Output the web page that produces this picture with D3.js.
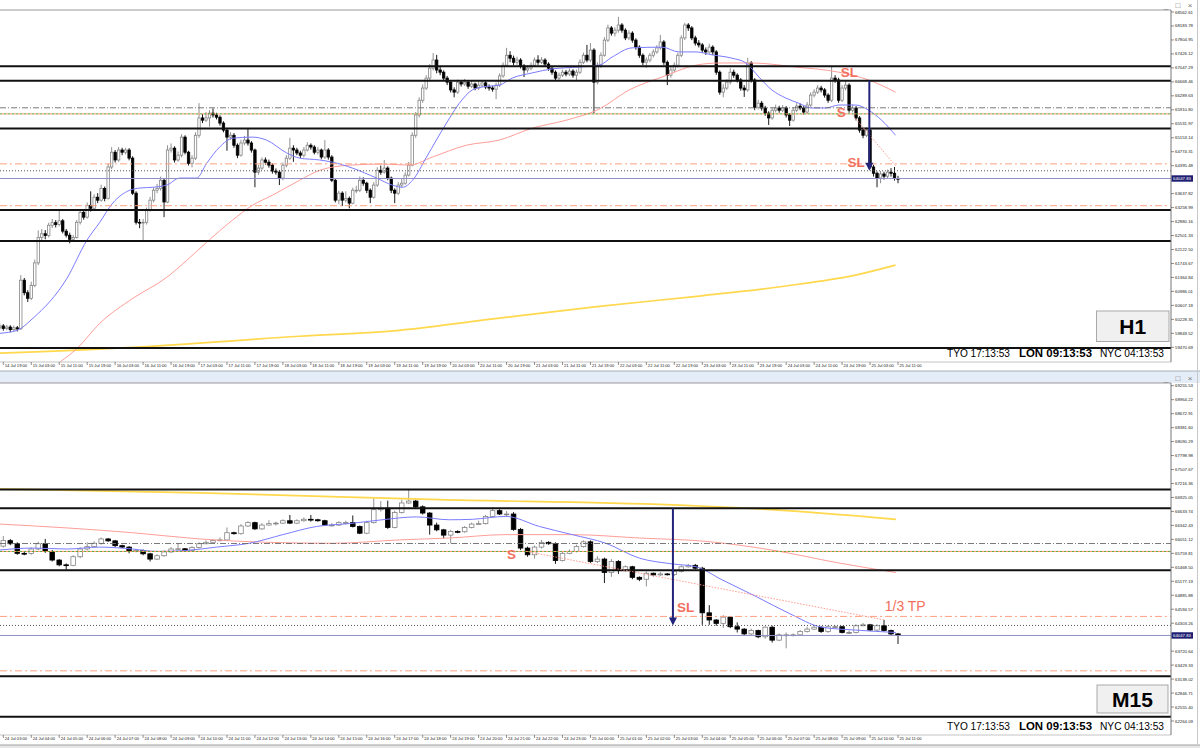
<!DOCTYPE html>
<html>
<head>
  <meta charset="utf-8">
  <title>BTCUSD H1 / M15</title>
  <style>
    body {
      margin: 0;
      background: #fff;
      font-family: "Liberation Sans", Arial, sans-serif;
    }
    svg { display: block; }
  </style>
  <script src="https://d3js.org/d3.v7.min.js"></script>
</head>
<body>
  <svg id="chart" width="1200" height="748"></svg>

  <script>
    // ---------------- H1 panel data (index = hours since 14 Jul 18:00) ----------------
    var h1FirstOpen = 60000;
    var h1Close = [
      60050, 59980, 60020, 59950, 60000, 59970, 61290, 60950, 60800, 61150,
      61760, 62450, 62550, 62500, 62780, 62850, 62800, 62900, 62620, 62510,
      62400, 62450, 62860, 63130, 63000, 63320, 63240, 63540, 63460, 63780,
      63510, 64360, 64760, 64550, 64820, 64760, 64820, 64600, 63650, 62860,
      62840, 62860, 63190, 63460, 63730, 63780, 64000, 63410, 64820, 64870,
      64550, 64680, 65170, 64760, 64460, 64600, 65220, 65690, 65630, 65690,
      65820, 65770, 65710, 65550, 65360, 65170, 65220, 64950, 64680, 65010,
      65090, 65010, 64820, 64220, 64330, 64550, 64490, 64410, 64250, 64220,
      64060, 64410, 64600, 64870, 64820, 64740, 64680, 64820, 64950, 64900,
      64760, 64820, 64630, 64820, 64630, 64000, 63460, 63650, 63460, 63510,
      63380, 63730, 63730, 64000, 63920, 63730, 63540, 63870, 64270, 64220,
      64330, 64060, 63730, 63650, 63870, 63920, 64140, 64410, 65220, 65770,
      66170, 66500, 66770, 67040, 67260, 66990, 66930, 66770, 66660, 66450,
      66390, 66660, 66610, 66660, 66550, 66610, 66500, 66580, 66640, 66530,
      66500, 66470, 66580, 66830, 67120, 67390, 67310, 67200, 67260, 67100,
      66990, 67040, 67120, 67260, 67200, 67260, 67150, 67040, 66930, 66770,
      66850, 66930, 66880, 66960, 66850, 66930, 67200, 67390, 67260, 67530,
      66660, 67120, 67390, 67800, 68130, 67990, 68070, 68210, 68070, 67860,
      67990, 67800, 67610, 67390, 67200, 67260, 67390, 67480, 67590, 67750,
      67200, 66850, 66990, 67120, 67390, 67860, 68210, 68130, 67860, 67720,
      67670, 67530, 67480, 67610, 67480, 66930, 66390, 66500, 66660, 66930,
      66850, 66720, 66500, 66450, 67180, 66720, 65980, 66090, 65960, 65820,
      65690, 65900, 65960, 65900, 65960, 65770, 65630, 65900, 66010, 65960,
      65850, 66040, 66310, 66390, 66500, 66450, 66310, 66170, 66770, 66720,
      66170, 66500, 66580, 65900, 65960, 65690, 65360, 65220, 65360, 64360,
      64190, 64060, 64170, 64110, 64220, 64190, 64050, 64048
    ];
    var h1High = [
      60120, 60100, 60080, 60070, 60060, 60050, 61430, 61350, 61020, 61250,
      61850, 62640, 62680, 62650, 62850, 62950, 62920, 63190, 62950, 62680,
      62580, 62520, 62920, 63200, 63180, 63400, 63700, 63620, 63650, 63880,
      63830, 64450, 64900, 64820, 64900, 64880, 64880, 64870, 64650, 63700,
      62950, 62950, 63260, 63550, 63800, 63900, 64100, 64050, 64950, 65000,
      64920, 64780, 65250, 65220, 64800, 64680, 65300, 66090, 65800, 65850,
      65900, 65950, 65830, 65760, 65600, 65420, 65300, 65280, 65000, 65100,
      65200, 65410, 65060, 64860, 64420, 64620, 64620, 64560, 64460, 64320,
      64280, 64480, 64680, 65150, 64950, 64880, 64800, 64900, 65030, 65000,
      64950, 64900, 64860, 65090, 64870, 64680, 64050, 63720, 63700, 63700,
      63560, 63800, 63850, 64100, 64080, 63960, 63780, 63950, 64350, 64400,
      64550, 64380, 64100, 63780, 63950, 64050, 64220, 64500, 65300, 65850,
      66250, 66600, 66850, 67150, 67450, 67400, 67080, 66980, 66830, 66700,
      66520, 66730, 66720, 66750, 66700, 66700, 66650, 66680, 66720, 66690,
      66600, 66560, 66650, 66900, 67200, 67590, 67500, 67380, 67350, 67310,
      67150, 67120, 67200, 67330, 67390, 67340, 67310, 67200, 67090, 66980,
      66920, 67000, 66990, 67030, 67010, 67000, 67280, 67460, 67670, 67720,
      67580, 67200, 67470, 67880, 68220, 68180, 68150, 68430, 68260, 68120,
      68070, 68040, 67850, 67660, 67440, 67330, 67450, 67550, 67660, 67940,
      67800, 67250, 67080, 67200, 67460, 67930, 68270, 68260, 68180, 67920,
      67800, 67720, 67600, 67700, 67660, 67530, 66980, 66600, 66740, 67040,
      67000, 66900, 66770, 66580, 67320, 67230, 66770, 66180, 66150, 66020,
      65870, 65980, 66050, 66020, 66040, 66010, 65820, 65980, 66090, 66080,
      66010, 66120, 66380, 66470, 66580, 66560, 66500, 66360, 67070, 66850,
      66780, 66580, 66720, 66630, 66050, 66010, 65740, 65420, 65440, 65410,
      64420, 64240, 64250, 64230, 64290, 64330, 64360, 64120
    ];
    var h1Low = [
      59940, 59920, 59930, 59880, 59900, 59900, 59950, 60880, 60700, 60750,
      61100, 61700, 62380, 62400, 62450, 62700, 62720, 62750, 62560, 62450,
      62290, 62340, 62420, 62800, 62930, 62960, 63150, 63200, 63380, 63420,
      63430, 63480, 64300, 64480, 64500, 64680, 64700, 64540, 63600, 62800,
      62700, 62350, 62800, 63150, 63400, 63650, 63720, 63000, 63380, 64750,
      64480, 64500, 64620, 64700, 64400, 64350, 64550, 65150, 65550, 65580,
      65450, 65700, 65650, 65480, 65300, 64800, 65100, 64880, 64600, 64640,
      64950, 64940, 64750, 63810, 64150, 64280, 64420, 64340, 64180, 64150,
      63870, 64000, 64350, 64550, 64500, 64680, 64600, 64620, 64780, 64830,
      64700, 64700, 64570, 64580, 64560, 63950, 63400, 63350, 63300, 63400,
      63240, 63350, 63650, 63680, 63850, 63650, 63380, 63500, 63820, 64150,
      64180, 64000, 63650, 63380, 63600, 63800, 63880, 64100, 64380, 65150,
      65700, 66100, 66450, 66720, 66980, 66900, 66850, 66700, 66580, 66380,
      66250, 66340, 66540, 66560, 66480, 66500, 66440, 66450, 66520, 66470,
      66430, 66400, 66200, 66530, 66780, 67080, 67200, 67120, 67130, 67030,
      66800, 66920, 66980, 67080, 67130, 67150, 67080, 66970, 66860, 66700,
      66720, 66800, 66820, 66830, 66780, 66700, 66880, 67150, 67200, 67200,
      65820, 66600, 67050, 67350, 67750, 67920, 67900, 68000, 68000, 67800,
      67800, 67730, 67540, 67320, 67120, 67050, 67200, 67330, 67430, 67540,
      67130, 66580, 66780, 66930, 67060, 67340, 67800, 68050, 67800, 67650,
      67600, 67460, 67400, 67430, 67400, 66860, 66320, 66250, 66450, 66600,
      66780, 66650, 66430, 66260, 66400, 66650, 65900, 65920, 65890, 65750,
      65500, 65640, 65840, 65830, 65850, 65700, 65470, 65590, 65850, 65900,
      65780, 65800, 65990, 66250, 66340, 66380, 66240, 66100, 66120, 66640,
      66100, 66120, 66440, 65830, 65840, 65620, 65290, 65140, 65170, 64300,
      64100, 63810, 63920, 64020, 64050, 64100, 63990, 63920
    ];
    // moving averages: [bar index, price]
    var h1FastMA = [
      [0, 59850], [4.9, 59930], [9.5, 60260], [19.2, 61340], [24.9, 62370], [28.6, 62860],
      [32.3, 63380], [37.2, 63730], [40.1, 63790], [43.8, 63810], [47.8, 63870], [51.5, 64060],
      [56.3, 64060], [59.2, 64460], [62.9, 64900], [66.6, 65140], [72.3, 65170], [76.3, 65090],
      [82.1, 64740], [85.8, 64600], [91.5, 64550], [95.2, 64490], [100.9, 64330], [107.8, 64060],
      [112.3, 63870], [115.2, 63810], [118.1, 64000], [122.1, 64630], [127.8, 65550], [131.5, 66090],
      [135.2, 66450], [138.1, 66530], [142.9, 66580], [146.6, 66770], [152.3, 66910], [158.1, 67020],
      [165.8, 67070], [171.5, 67120], [175.2, 67340], [180.9, 67590], [189.5, 67610], [194.3, 67480],
      [199.2, 67480], [203.8, 67400], [209.5, 67310], [213.5, 67180], [217.2, 66800], [220.9, 66450],
      [224.9, 66230], [228.6, 66090], [232.3, 65960], [236.3, 65960], [240.1, 66040], [244.9, 66040],
      [248.6, 65900], [252.3, 65630], [256.3, 65220]
    ];
    var h1MidMA = [
      [17.2, 59070], [22.1, 59440], [28.6, 60120], [38.1, 60800], [47.8, 61370], [53.5, 61830],
      [59.2, 62320], [66.6, 62920], [72.3, 63320], [78.1, 63600], [85.8, 64000], [91.5, 64270],
      [100.1, 64410], [109.5, 64440], [117.2, 64410], [123.8, 64630], [133.5, 64950], [142.9, 65090],
      [152.3, 65410], [162.1, 65630], [171.5, 65930], [180.1, 66450], [189.5, 66800], [199.2, 67120],
      [205.8, 67180], [215.2, 67180], [227.8, 67070], [240.1, 66930], [248.6, 66720], [256.3, 66390]
    ];
    var h1SlowMA = [
      [0, 59310], [38.1, 59470], [85.8, 59770], [114.3, 59930], [142.9, 60260],
      [171.5, 60580], [200.1, 60860], [228.6, 61180], [245.8, 61450], [256.3, 61700]
    ];
    var h1PriceTicks = [
      59470.69, 59849.52, 60228.35, 60607.18, 60986.01, 61364.84, 61743.67, 62122.50, 62501.33,
      62880.16, 63258.99, 63637.82, 64016.65, 64395.48, 64774.31, 65153.14, 65531.97, 65910.80,
      66289.63, 66668.46, 67047.29, 67426.12, 67804.95, 68183.78, 68562.61
    ];
    var h1TimeLabels = [
      "14 Jul 19:00", "15 Jul 03:00", "15 Jul 11:00", "15 Jul 19:00", "16 Jul 03:00", "16 Jul 11:00",
      "16 Jul 19:00", "17 Jul 03:00", "17 Jul 11:00", "17 Jul 19:00", "18 Jul 03:00", "18 Jul 11:00",
      "18 Jul 19:00", "19 Jul 03:00", "19 Jul 11:00", "19 Jul 19:00", "20 Jul 03:00", "20 Jul 11:00",
      "20 Jul 19:00", "21 Jul 03:00", "21 Jul 11:00", "21 Jul 19:00", "22 Jul 03:00", "22 Jul 11:00",
      "22 Jul 19:00", "23 Jul 03:00", "23 Jul 11:00", "23 Jul 19:00", "24 Jul 03:00", "24 Jul 11:00",
      "24 Jul 19:00", "25 Jul 03:00", "25 Jul 11:00"
    ];
    var h1Notes = [
      { text: "SL", i: 243.1, price: 66909, bold: true },
      { text: "S", i: 240.8, price: 65838, bold: true },
      { text: "SL", i: 245.0, price: 64495, bold: true }
    ];

    // ---------------- M15 panel data (index = 15 min bars since 24 Jul 03:00) ----------------
    var m15FirstOpen = 65910;
    var m15Close = [
      66025, 65960, 65760, 65755, 65850, 65960, 65800, 65620, 65520, 65510,
      65690, 65850, 65900, 65970, 66060, 66020, 65920, 65890, 65800, 65820,
      65750, 65640, 65710, 65790, 65850, 65855, 65820, 65880, 65960, 65990,
      66030, 66040, 66190, 66170, 66330, 66400, 66270, 66350, 66380, 66390,
      66440, 66390, 66440, 66470, 66460, 66440, 66350, 66350, 66400, 66400,
      66320, 66180, 66400, 66670, 66700, 66300, 66610, 66810, 66850, 66730,
      66600, 66350, 66250, 66140, 66215, 66210, 66300, 66370, 66380, 66530,
      66650, 66580, 66580, 66260, 65870, 65730, 65890, 65990, 65960, 65610,
      65760, 65800, 65900, 66000, 65590, 65640, 65360, 65590, 65415, 65480,
      65260, 65220, 65345, 65310, 65330, 65320, 65380, 65480, 65510, 65450,
      64520, 64370, 64300, 64430, 64230, 64180, 64080, 64150, 64020, 64220,
      63950, 64060, 64060, 64060, 64130, 64180, 64220, 64130, 64230, 64230,
      64110, 64110, 64250, 64270, 64160, 64250, 64150, 64080, 64048
    ];
    var m15High = [
      66120, 66060, 65990, 65800, 65880, 66000, 66060, 65830, 65640, 65550,
      65720, 65890, 65990, 66010, 66090, 66080, 66040, 65940, 65910, 65850,
      65840, 65770, 65740, 65820, 65890, 65960, 65870, 65910, 65990, 66030,
      66060, 66090, 66300, 66210, 66370, 66430, 66420, 66390, 66450, 66420,
      66470, 66560, 66470, 66510, 66560, 66480, 66460, 66390, 66430, 66440,
      66550, 66340, 66440, 66910, 66850, 66860, 66650, 66880, 67100, 66880,
      66760, 66620, 66400, 66270, 66250, 66240, 66330, 66400, 66440, 66560,
      66720, 66680, 66640, 66620, 66290, 65900, 65920, 66040, 66010, 65990,
      65790, 65840, 65940, 66030, 66030, 65700, 65670, 65640, 65620, 65510,
      65500, 65280, 65380, 65360, 65370, 65350, 65410, 65510, 65540, 65540,
      65480, 64680, 64390, 64470, 64450, 64320, 64200, 64190, 64170, 64240,
      64250, 64090, 64110, 64090, 64160, 64230, 64260, 64240, 64260, 64260,
      64250, 64150, 64280, 64310, 64290, 64280, 64370, 64170, 64100
    ];
    var m15Low = [
      65880, 65930, 65730, 65720, 65730, 65830, 65770, 65590, 65490, 65420,
      65490, 65660, 65820, 65880, 65940, 66000, 65890, 65870, 65760, 65780,
      65720, 65590, 65620, 65690, 65770, 65830, 65800, 65800, 65860, 65950,
      65970, 66010, 66020, 66150, 66150, 66310, 66250, 66250, 66340, 66340,
      66370, 66370, 66370, 66420, 66420, 66420, 66330, 66320, 66330, 66370,
      66300, 66160, 66160, 66380, 66630, 66270, 66280, 66590, 66790, 66700,
      66570, 66150, 66220, 66070, 65970, 66180, 66190, 66280, 66350, 66360,
      66510, 66560, 66520, 66230, 65830, 65690, 65650, 65860, 65940, 65540,
      65590, 65740, 65780, 65880, 65560, 65560, 65140, 65270, 65330, 65380,
      65220, 65180, 65070, 65280, 65290, 65300, 65290, 65360, 65460, 65420,
      64270, 64270, 64250, 64205, 64200, 64110, 64050, 64060, 63990, 63980,
      63900, 63930, 63780, 64030, 64040, 64110, 64160, 64100, 64100, 64200,
      64090, 64080, 64090, 64240, 64140, 64130, 64130, 64050, 63870
    ];
    var m15FastMA = [
      [-0.5, 65830], [4.2, 65870], [9.1, 65850], [13.8, 65890], [18.5, 65850], [22, 65800],
      [26.2, 65820], [30.5, 65890], [35.2, 65970], [40, 66150], [44.8, 66320], [49.5, 66380],
      [54.2, 66460], [59.1, 66520], [63.8, 66460], [67.1, 66470], [71.9, 66530], [76.7, 66320],
      [81.4, 66150], [86.2, 65970], [91, 65660], [95.7, 65540], [99.1, 65480], [102.8, 65210],
      [107.7, 64860], [112.4, 64510], [117.1, 64220], [121.9, 64160], [127.7, 64110]
    ];
    var m15MidMA = [
      [-0.5, 66370], [9.1, 66290], [18.5, 66190], [28.1, 66060], [37.7, 65990], [47.1, 65970],
      [56.7, 66040], [63.8, 66080], [71.9, 66150], [81.4, 66150], [91, 66080], [100.5, 66010],
      [109.9, 65830], [119.5, 65560], [127.7, 65360]
    ];
    var m15SlowMA = [
      [-0.5, 67100], [28.1, 67020], [62.4, 66880], [95.7, 66770], [109.9, 66670], [127.7, 66470]
    ];
    var m15PriceTicks = [
      62264.09, 62555.40, 62846.71, 63138.02, 63429.33, 63720.64, 64011.95, 64303.26, 64594.57,
      64885.88, 65177.19, 65468.50, 65759.81, 66051.12, 66342.43, 66633.74, 66925.05, 67216.36,
      67507.67, 67798.98, 68090.29, 68381.60, 68672.91, 68964.22, 69255.53
    ];
    var m15TimeLabels = [
      "24 Jul 03:00", "24 Jul 04:00", "24 Jul 05:00", "24 Jul 06:00", "24 Jul 07:00", "24 Jul 08:00",
      "24 Jul 09:00", "24 Jul 10:00", "24 Jul 11:00", "24 Jul 12:00", "24 Jul 13:00", "24 Jul 14:00",
      "24 Jul 15:00", "24 Jul 16:00", "24 Jul 17:00", "24 Jul 18:00", "24 Jul 19:00", "24 Jul 20:00",
      "24 Jul 21:00", "24 Jul 22:00", "24 Jul 23:00", "25 Jul 00:00", "25 Jul 01:00", "25 Jul 02:00",
      "25 Jul 03:00", "25 Jul 04:00", "25 Jul 05:00", "25 Jul 06:00", "25 Jul 07:00", "25 Jul 08:00",
      "25 Jul 09:00", "25 Jul 10:00", "25 Jul 11:00"
    ];
    var m15Notes = [
      { text: "S", i: 72.7, price: 65728, bold: true },
      { text: "SL", i: 97.6, price: 64622, bold: true },
      { text: "1/3 TP", i: 126.1, price: 64664, bold: false, anchor: "start" }
    ];

    // ---------------- shared horizontal levels ----------------
    var solidLevels = [67090, 66700, 65405, 63195, 62355, 59455];
    var grayDashDotLevel = 65965;
    var entryDotLevel = 65800;
    var redDashDotLevels = [64445, 63310];
    var grayDotLevel = 64257;
    var lastPrice = 64047.83;
    var clocks = ["TYO 17:13:53", "LON 09:13:53", "NYC 04:13:53"];

    var width = 1200, height = 748, chartRight = 1171;
    var svg = d3.select("#chart");

    function buildCandles(firstOpen, close, high, low) {
      return close.map(function (c, i) {
        return { i: i, o: i === 0 ? firstOpen : close[i - 1], h: high[i], l: low[i], c: c };
      });
    }

    function drawPanel(p) {
      var g = svg.append("g");
      var clipId = "clip-" + p.name;
      svg.append("clipPath").attr("id", clipId).append("rect")
          .attr("x", 0).attr("y", p.top)
          .attr("width", chartRight).attr("height", p.bottom - p.top);

      var x = d3.scaleLinear().domain(p.xDomain).range([3.3, 898]);
      var y = d3.scaleLinear().domain(p.yDomain).range(p.yRange);

      g.append("rect").attr("x", 0).attr("y", p.top)
          .attr("width", chartRight).attr("height", p.bottom - p.top)
          .attr("fill", "#fff");

      var plot = g.append("g").attr("clip-path", "url(#" + clipId + ")");

      // candles
      var candles = plot.append("g").selectAll("g")
          .data(p.candles)
          .join("g");
      candles.append("line")
          .attr("x1", d => x(d.i)).attr("x2", d => x(d.i))
          .attr("y1", d => y(d.h)).attr("y2", d => y(d.l))
          .attr("stroke", d => d.c >= d.o ? "#858585" : "#000")
          .attr("stroke-width", 0.9);
      candles.append("rect")
          .attr("x", d => x(d.i) - p.bodyW / 2)
          .attr("y", d => y(Math.max(d.o, d.c)))
          .attr("width", p.bodyW)
          .attr("height", d => Math.max(0.8, Math.abs(y(d.o) - y(d.c))))
          .attr("fill", d => d.c > d.o ? "#fff" : (d.c === d.o ? "#858585" : "#000"))
          .attr("stroke", d => d.c >= d.o ? "#858585" : "#000")
          .attr("stroke-width", 0.8);

      // moving averages
      var line = d3.line().x(d => x(d[0])).y(d => y(d[1])).curve(d3.curveMonotoneX);
      plot.append("path").datum(p.slowMA).attr("d", line)
          .attr("fill", "none").attr("stroke", "#ffd84d").attr("stroke-width", 1.7);
      plot.append("path").datum(p.midMA).attr("d", line)
          .attr("fill", "none").attr("stroke", "#ff9e98").attr("stroke-width", 1);
      plot.append("path").datum(p.fastMA).attr("d", line)
          .attr("fill", "none").attr("stroke", "#7b7bff").attr("stroke-width", 1);

      // horizontal levels
      function hline(price, color, dash, w) {
        plot.append("line")
            .attr("x1", 0).attr("x2", chartRight)
            .attr("y1", y(price)).attr("y2", y(price))
            .attr("stroke", color).attr("stroke-width", w || 1)
            .attr("stroke-dasharray", dash || null);
      }
      solidLevels.forEach(function (v) { hline(v, "#111", null, 2); });
      hline(grayDashDotLevel, "#6a6a6a", "6,2,1,2", 0.9);
      hline(entryDotLevel, "#5f9e2f", "2,2", 1);
      plot.append("line")
          .attr("x1", 2).attr("x2", chartRight)
          .attr("y1", y(entryDotLevel)).attr("y2", y(entryDotLevel))
          .attr("stroke", "#ff9966").attr("stroke-width", 1).attr("stroke-dasharray", "2,2");
      redDashDotLevels.forEach(function (v) { hline(v, "#ffa080", "7,3,2,3", 1); });
      hline(grayDotLevel, "#555", "1,2", 1);
      hline(lastPrice, "#9090c8", null, 1);

      // target line from the short entry
      plot.append("line")
          .attr("x1", x(p.target[0][0])).attr("y1", y(p.target[0][1]))
          .attr("x2", x(p.target[1][0])).attr("y2", y(p.target[1][1]))
          .attr("stroke", "#ff9080").attr("stroke-width", 0.9).attr("stroke-dasharray", "1.5,1.5");

      // arrow from the broken level to the stop
      var ax = x(p.arrow.i), ay0 = y(p.arrow.from), ay1 = y(p.arrow.to);
      plot.append("line")
          .attr("x1", ax).attr("x2", ax).attr("y1", ay0).attr("y2", ay1 - 6)
          .attr("stroke", "#23237a").attr("stroke-width", 2);
      plot.append("path")
          .attr("d", "M" + (ax - 4) + "," + (ay1 - 8) + "L" + (ax + 4) + "," + (ay1 - 8) + "L" + ax + "," + ay1 + "Z")
          .attr("fill", "#23237a");

      // texts
      plot.selectAll("text.note")
          .data(p.notes)
          .join("text")
          .attr("class", "note")
          .attr("x", d => x(d.i)).attr("y", d => y(d.price))
          .attr("text-anchor", d => d.anchor || "middle")
          .attr("dominant-baseline", "central")
          .attr("font-size", d => d.bold ? 13.5 : 14)
          .attr("font-weight", d => d.bold ? "bold" : "normal")
          .attr("fill", "#f2705e")
          .text(d => d.text);

      // timeframe button
      g.append("rect")
          .attr("x", p.box[0]).attr("y", p.box[1]).attr("width", p.box[2]).attr("height", p.box[3])
          .attr("fill", "#f0f0f0").attr("stroke", "#a9a9a9").attr("stroke-width", 1);
      g.append("text")
          .attr("x", p.box[0] + p.box[2] / 2).attr("y", p.box[1] + p.box[3] / 2 + 7.5)
          .attr("text-anchor", "middle")
          .attr("font-size", 21).attr("font-weight", "bold").attr("fill", "#000")
          .text(p.name);

      // clocks
      var cx = [947, 1019, 1100], cw = [63, 73, 64];
      clocks.forEach(function (t, k) {
        g.append("text")
            .attr("x", cx[k]).attr("y", p.bottom - 5.5)
            .attr("font-size", 10.5)
            .attr("font-weight", k === 1 ? "bold" : "normal")
            .attr("textLength", cw[k]).attr("lengthAdjust", "spacingAndGlyphs")
            .attr("fill", "#000")
            .text(t);
      });

      // frame
      g.append("line").attr("x1", 0).attr("x2", chartRight)
          .attr("y1", p.top).attr("y2", p.top).attr("stroke", "#9a9a9a");
      g.append("line").attr("x1", 0).attr("x2", chartRight)
          .attr("y1", p.bottom).attr("y2", p.bottom).attr("stroke", "#c4c4c4");
      g.append("line").attr("x1", chartRight).attr("x2", chartRight)
          .attr("y1", p.top).attr("y2", p.bottom).attr("stroke", "#777");

      // price axis
      var ticks = p.priceTicks.filter(v => Math.abs(y(v) - y(lastPrice)) > 4);
      var ya = g.append("g");
      ya.selectAll("line").data(ticks).join("line")
          .attr("x1", chartRight).attr("x2", chartRight + 3)
          .attr("y1", d => y(d)).attr("y2", d => y(d))
          .attr("stroke", "#444").attr("stroke-width", 0.6);
      ya.selectAll("text").data(ticks).join("text")
          .attr("x", chartRight + 4).attr("y", d => y(d) + 1.5)
          .attr("font-size", 4.3).attr("fill", "#222")
          .text(d => d3.format(".2f")(d));
      ya.append("rect")
          .attr("x", chartRight + 0.5).attr("y", y(lastPrice) - 3.2)
          .attr("width", 21.5).attr("height", 6.4).attr("fill", "#1f1f72");
      ya.append("text")
          .attr("x", chartRight + 2).attr("y", y(lastPrice) + 1.5)
          .attr("font-size", 4.3).attr("fill", "#fff")
          .text(d3.format(".2f")(lastPrice));

      // time axis
      var xa = g.append("g");
      xa.selectAll("line").data(p.timeLabels).join("line")
          .attr("x1", (d, k) => x(p.xDomain[0] + k * p.labelStep))
          .attr("x2", (d, k) => x(p.xDomain[0] + k * p.labelStep))
          .attr("y1", p.bottom).attr("y2", p.bottom + 3)
          .attr("stroke", "#444").attr("stroke-width", 0.6);
      xa.selectAll("text").data(p.timeLabels).join("text")
          .attr("x", (d, k) => x(p.xDomain[0] + k * p.labelStep) + 1.5)
          .attr("y", p.bottom + 4.5)
          .attr("font-size", 4.1).attr("fill", "#222")
          .text(d => d);

      // window buttons
      [["_", 1166], ["\u25A1", 1178], ["\u00D7", 1190]].forEach(function (b) {
        svg.append("text")
            .attr("x", b[1]).attr("y", p.top - 2.5)
            .attr("text-anchor", "middle")
            .attr("font-size", 8).attr("fill", "#777")
            .text(b[0]);
      });
    }

    // window chrome
    svg.append("rect").attr("x", 0).attr("y", 0).attr("width", width).attr("height", height).attr("fill", "#fff");
    svg.append("rect").attr("x", 0).attr("y", 371).attr("width", width).attr("height", 12).attr("fill", "#e3ecf7");
    svg.append("line").attr("x1", 0).attr("x2", width).attr("y1", 371).attr("y2", 371).attr("stroke", "#a8b0ba");
    svg.append("rect").attr("x", 0).attr("y", 745).attr("width", width).attr("height", 3).attr("fill", "#e6e6e6");
    svg.append("line").attr("x1", 0).attr("x2", width).attr("y1", 745).attr("y2", 745).attr("stroke", "#a0a0a0");
    svg.append("line").attr("x1", 1197.5).attr("x2", 1197.5).attr("y1", 0).attr("y2", 745).attr("stroke", "#c8c8c8");

    drawPanel({
      name: "H1",
      top: 10, bottom: 362,
      xDomain: [1, 257],
      yDomain: [59470.69, 68562.61], yRange: [347.3, 12],
      bodyW: 2.4,
      candles: buildCandles(h1FirstOpen, h1Close, h1High, h1Low),
      fastMA: h1FastMA, midMA: h1MidMA, slowMA: h1SlowMA,
      priceTicks: h1PriceTicks, timeLabels: h1TimeLabels, labelStep: 8,
      notes: h1Notes,
      target: [[243.8, 65790], [256.5, 64370]],
      arrow: { i: 248.8, from: 66700, to: 64257 },
      box: [1096.5, 311, 72.5, 30.5]
    });

    drawPanel({
      name: "M15",
      top: 383, bottom: 735,
      xDomain: [0, 128],
      yDomain: [62264.09, 69255.53], yRange: [721, 385.7],
      bodyW: 4.6,
      candles: buildCandles(m15FirstOpen, m15Close, m15High, m15Low),
      fastMA: m15FastMA, midMA: m15MidMA, slowMA: m15SlowMA,
      priceTicks: m15PriceTicks, timeLabels: m15TimeLabels, labelStep: 4,
      notes: m15Notes,
      target: [[75.2, 65790], [126.1, 64370]],
      arrow: { i: 95.8, from: 66700, to: 64257 },
      box: [1097, 685, 71, 28]
    });
  </script>
</body>
</html>
